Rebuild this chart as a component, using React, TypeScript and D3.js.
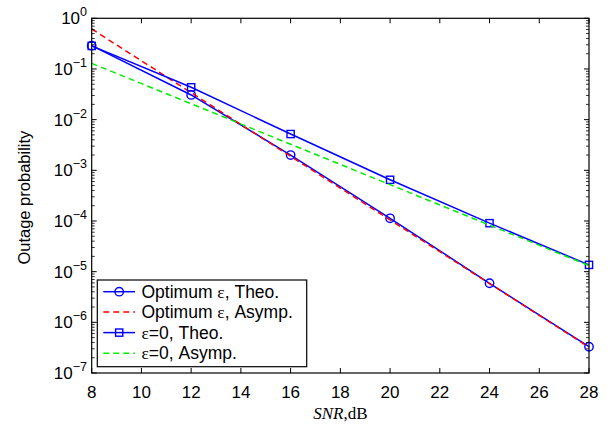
import React from "react";
import * as d3 from "d3";

// SNR in dB
const snr = [8, 12, 16, 20, 24, 28];

// outage probability
const optTheo = [0.288, 0.0307, 2.0e-3, 1.13e-4, 5.9e-6, 3.3e-7];
const optAsymp = [0.615, 0.0341, 1.89e-3, 1.05e-4, 5.82e-6, 3.23e-7];
const zeroTheo = [0.285, 0.0435, 5.2e-3, 6.5e-4, 9.05e-5, 1.36e-5];
const zeroAsymp = [0.129, 0.0206, 3.27e-3, 5.21e-4, 8.28e-5, 1.32e-5];

const xTicks = [8, 10, 12, 14, 16, 18, 20, 22, 24, 26, 28];
const yExps = [0, -1, -2, -3, -4, -5, -6, -7];

// [before epsilon, after epsilon] for each legend entry
const legendLabels = [
  ["Optimum ", ", Theo."],
  ["Optimum ", ", Asymp."],
  ["", "=0, Theo."],
  ["", "=0, Asymp."],
];

const W = 615;
const H = 431;
const m = { left: 91.7, right: 589, top: 18.3, bottom: 373 };
const font = "'Liberation Sans', Arial, sans-serif";

const App = () => {
  const x = d3.scaleLinear().domain([8, 28]).range([m.left, m.right]);
  const y = d3.scaleLog().domain([1e-7, 1]).range([m.bottom, m.top]);

  const line = d3
    .line<number>()
    .x((_, i) => x(snr[i]))
    .y((d) => y(d));

  const series = [
    { data: optTheo, color: "#0000ff", dash: null, marker: "circle" },
    { data: optAsymp, color: "#ff0000", dash: "6,4", marker: null },
    { data: zeroTheo, color: "#0000ff", dash: null, marker: "square" },
    { data: zeroAsymp, color: "#00ee00", dash: "6,4", marker: null },
  ];

  // minor log ticks
  const minor: number[] = [];
  for (let e = -7; e < 0; e++) {
    for (let k = 2; k <= 9; k++) minor.push(k * Math.pow(10, e));
  }

  const marker = (type: string | null, cx: number, cy: number, color: string, key: string) => {
    if (type === "circle")
      return <circle key={key} cx={cx} cy={cy} r={4.2} fill="none" stroke={color} strokeWidth={1.4} />;
    if (type === "square")
      return (
        <rect key={key} x={cx - 3.6} y={cy - 3.6} width={7.2} height={7.2} fill="none" stroke={color} strokeWidth={1.4} />
      );
    return null;
  };

  const lg = { x: 97.3, y: 280, w: 209.4, h: 86.7 };
  const rowY = [291.7, 312, 332.6, 353.3];

  return (
    <svg width={W} height={H} style={{ position: "absolute", left: 0, top: 0, background: "#fff" }} fontFamily={font}>
      <rect width={W} height={H} fill="#fff" />

      {/* series */}
      {series.map((s, i) => (
        <g key={i}>
          <path d={line(s.data) || ""} fill="none" stroke={s.color} strokeWidth={1.5} strokeDasharray={s.dash || undefined} />
          {s.data.map((d, j) => marker(s.marker, x(snr[j]), y(d), s.color, `${i}-${j}`))}
        </g>
      ))}

      {/* frame */}
      <rect x={m.left} y={m.top} width={m.right - m.left} height={m.bottom - m.top} fill="none" stroke="#000" strokeWidth={1.2} />

      {/* x ticks */}
      {xTicks.map((t) => (
        <g key={t}>
          <line x1={x(t)} x2={x(t)} y1={m.bottom} y2={m.bottom - 5} stroke="#000" />
          <line x1={x(t)} x2={x(t)} y1={m.top} y2={m.top + 5} stroke="#000" />
          <text x={x(t)} y={398} textAnchor="middle" fontSize={17}>
            {t}
          </text>
        </g>
      ))}

      {/* y ticks */}
      {yExps.map((e) => {
        const yy = y(Math.pow(10, e));
        return (
          <g key={e}>
            <line x1={m.left} x2={m.left + 5} y1={yy} y2={yy} stroke="#000" />
            <line x1={m.right} x2={m.right - 5} y1={yy} y2={yy} stroke="#000" />
            <text x={87} y={yy + 6} textAnchor="end" fontSize={17}>
              10
              <tspan dy={-8} fontSize={12.5}>
                {e === 0 ? "0" : "\u2212" + -e}
              </tspan>
            </text>
          </g>
        );
      })}
      {minor.map((v, i) => (
        <g key={"m" + i}>
          <line x1={m.left} x2={m.left + 3} y1={y(v)} y2={y(v)} stroke="#000" strokeWidth={0.8} />
          <line x1={m.right} x2={m.right - 3} y1={y(v)} y2={y(v)} stroke="#000" strokeWidth={0.8} />
        </g>
      ))}

      {/* axis labels */}
      <text
        transform={`translate(30,${(m.top + m.bottom) / 2 + 2}) rotate(-90)`}
        textAnchor="middle"
        fontSize={16.5}
      >
        Outage probability
      </text>
      <text x={(m.left + m.right) / 2} y={419} textAnchor="middle" fontSize={17} fontFamily="'Liberation Serif', serif">
        <tspan fontStyle="italic">SNR</tspan>,dB
      </text>

      {/* legend */}
      <rect x={lg.x} y={lg.y} width={lg.w} height={lg.h} fill="#fff" stroke="#000" strokeWidth={1.2} />
      {series.map((s, i) => (
        <g key={"lg" + i}>
          <line x1={103.3} x2={135} y1={rowY[i]} y2={rowY[i]} stroke={s.color} strokeWidth={1.5} strokeDasharray={s.dash || undefined} />
          {marker(s.marker, 119.2, rowY[i], s.color, "lm" + i)}
          <text x={141.5} y={rowY[i] + 6} fontSize={17.5}>
            {legendLabels[i][0]}
            <tspan fontFamily="'Liberation Serif', serif">{"\u03b5"}</tspan>
            {legendLabels[i][1]}
          </text>
        </g>
      ))}
    </svg>
  );
};

export default App;
